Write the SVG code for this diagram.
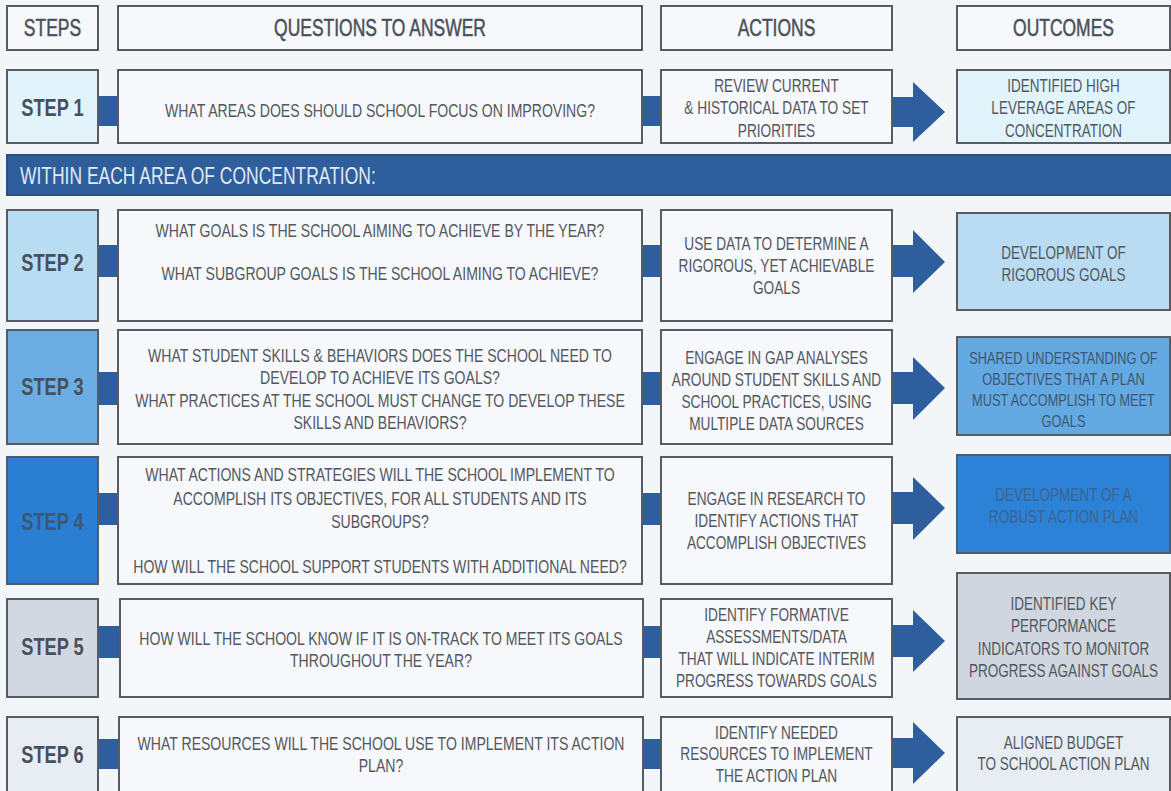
<svg xmlns="http://www.w3.org/2000/svg" width="1171" height="791" viewBox="0 0 1171 791">
<style>
.bg{fill:#f3f6f9}
.box{fill:#f6f8fb;stroke:#585c62;stroke-width:2}
.c{fill:#2e5e9e}
.t{font-family:'Liberation Sans',Arial,sans-serif;fill:#52575d;text-anchor:middle;dominant-baseline:central}
.h{font-size:23px;fill:#4a5058;stroke:#4a5058;stroke-width:0.5}
.s{font-size:24px;font-weight:bold;fill:#47505b}
.q{font-size:18.5px}
.a{font-size:18px}
.o{font-size:17.8px}
</style>
<rect class="bg" x="0" y="0" width="1171" height="791"/>

<g id="connectors">
  <rect class="c" x="97" y="96" width="23" height="30"/>
  <rect class="c" x="640" y="96" width="23" height="30"/>
  <polygon class="c" points="892,97 913,97 913,82 945,112 913,142 913,127 892,127"/>
  <rect class="c" x="97" y="245" width="23" height="32"/>
  <rect class="c" x="640" y="245" width="23" height="32"/>
  <polygon class="c" points="892,245 913,245 913,230 945,262 913,293 913,277 892,277"/>
  <rect class="c" x="97" y="372" width="23" height="33"/>
  <rect class="c" x="640" y="372" width="23" height="33"/>
  <polygon class="c" points="892,372 913,372 913,357 945,388 913,420 913,404 892,404"/>
  <rect class="c" x="97" y="493" width="23" height="32"/>
  <rect class="c" x="640" y="493" width="23" height="32"/>
  <polygon class="c" points="892,492 913,492 913,477 945,508 913,540 913,524 892,524"/>
  <rect class="c" x="97" y="626" width="25" height="32"/>
  <rect class="c" x="641" y="626" width="22" height="32"/>
  <polygon class="c" points="892,625 913,625 913,610 945,641 913,672 913,657 892,657"/>
  <rect class="c" x="97" y="739" width="24" height="30"/>
  <rect class="c" x="641" y="739" width="22" height="30"/>
  <polygon class="c" points="892,738 913,738 913,722 945,753 913,784 913,768 892,768"/>
</g>

<g id="hdr-steps"><rect class="box" x="7" y="6" width="91" height="44"/><text class="t h" transform="scale(0.76 1)" x="69.08" y="28">STEPS</text></g>
<g id="hdr-questions"><rect class="box" x="118" y="6" width="524" height="44"/><text class="t h" transform="scale(0.76 1)" x="500" y="28">QUESTIONS TO ANSWER</text></g>
<g id="hdr-actions"><rect class="box" x="661" y="6" width="231" height="44"/><text class="t h" transform="scale(0.76 1)" x="1021.71" y="28">ACTIONS</text></g>
<g id="hdr-outcomes"><rect class="box" x="957" y="6" width="213" height="44"/><text class="t h" transform="scale(0.76 1)" x="1399.34" y="28">OUTCOMES</text></g>

<g id="step1"><rect class="box" x="7" y="70" width="91" height="73" style="fill:#e2f3fb"/><text class="t s" transform="scale(0.76 1)" x="69.08" y="108">STEP 1</text></g>
<g id="q1"><rect class="box" x="118" y="70" width="524" height="73"/><text class="t q" transform="scale(0.76 1)" x="500" y="110">WHAT AREAS DOES SHOULD SCHOOL FOCUS ON IMPROVING?</text></g>
<g id="a1"><rect class="box" x="661" y="70" width="231" height="73"/><text class="t a" transform="scale(0.76 1)"><tspan x="1021.71" y="85">REVIEW CURRENT</tspan><tspan x="1021.71" y="107">&amp; HISTORICAL DATA TO SET</tspan><tspan x="1021.71" y="130">PRIORITIES</tspan></text></g>
<g id="o1"><rect class="box" x="957" y="70" width="213" height="73" style="fill:#e1f4fb"/><text class="t o" transform="scale(0.76 1)"><tspan x="1399.34" y="85">IDENTIFIED HIGH</tspan><tspan x="1399.34" y="107">LEVERAGE AREAS OF</tspan><tspan x="1399.34" y="130">CONCENTRATION</tspan></text></g>

<g id="band"><rect x="7" y="155" width="1170" height="40" style="fill:#2f5e9c;stroke:#29508a;stroke-width:2"/><text class="t" transform="scale(0.76 1)" x="26.32" y="176" style="font-size:23px;fill:#e2e9f2;text-anchor:start">WITHIN EACH AREA OF CONCENTRATION:</text></g>

<g id="step2"><rect class="box" x="7" y="210" width="91" height="111" style="fill:#b8dcf2"/><text class="t s" transform="scale(0.76 1)" x="69.08" y="263">STEP 2</text></g>
<g id="q2"><rect class="box" x="118" y="210" width="524" height="111"/><text class="t q" transform="scale(0.76 1)"><tspan x="500" y="230">WHAT GOALS IS THE SCHOOL AIMING TO ACHIEVE BY THE YEAR?</tspan><tspan x="500" y="273">WHAT SUBGROUP GOALS IS THE SCHOOL AIMING TO ACHIEVE?</tspan></text></g>
<g id="a2"><rect class="box" x="661" y="210" width="231" height="111"/><text class="t a" transform="scale(0.76 1)"><tspan x="1021.71" y="243">USE DATA TO DETERMINE A</tspan><tspan x="1021.71" y="265">RIGOROUS, YET ACHIEVABLE</tspan><tspan x="1021.71" y="287">GOALS</tspan></text></g>
<g id="o2"><rect class="box" x="957" y="213" width="213" height="97" style="fill:#b9dcf2"/><text class="t o" transform="scale(0.76 1)"><tspan x="1399.34" y="252">DEVELOPMENT OF</tspan><tspan x="1399.34" y="274">RIGOROUS GOALS</tspan></text></g>

<g id="step3"><rect class="box" x="7" y="330" width="91" height="114" style="fill:#6caee3"/><text class="t s" transform="scale(0.76 1)" x="69.08" y="387">STEP 3</text></g>
<g id="q3"><rect class="box" x="118" y="330" width="524" height="114"/><text class="t q" transform="scale(0.76 1)"><tspan x="500" y="355">WHAT STUDENT SKILLS &amp; BEHAVIORS DOES THE SCHOOL NEED TO</tspan><tspan x="500" y="377">DEVELOP TO ACHIEVE ITS GOALS?</tspan><tspan x="500" y="400">WHAT PRACTICES AT THE SCHOOL MUST CHANGE TO  DEVELOP THESE</tspan><tspan x="500" y="422">SKILLS AND BEHAVIORS?</tspan></text></g>
<g id="a3"><rect class="box" x="661" y="330" width="231" height="114"/><text class="t a" transform="scale(0.76 1)"><tspan x="1021.71" y="357">ENGAGE IN GAP ANALYSES</tspan><tspan x="1021.71" y="379">AROUND STUDENT SKILLS AND</tspan><tspan x="1021.71" y="401">SCHOOL PRACTICES, USING</tspan><tspan x="1021.71" y="423">MULTIPLE DATA SOURCES</tspan></text></g>
<g id="o3"><rect class="box" x="957" y="337" width="213" height="98" style="fill:#63a9e2"/><text class="t o" transform="scale(0.76 1)" style="fill:#3f5670;font-size:16.8px"><tspan x="1399.34" y="357">SHARED UNDERSTANDING OF</tspan><tspan x="1399.34" y="378">OBJECTIVES THAT A PLAN</tspan><tspan x="1399.34" y="399">MUST ACCOMPLISH TO MEET</tspan><tspan x="1399.34" y="420">GOALS</tspan></text></g>

<g id="step4"><rect class="box" x="7" y="457" width="91" height="127" style="fill:#2b7fd3"/><text class="t s" transform="scale(0.76 1)" x="69.08" y="522" style="fill:#3a5878">STEP 4</text></g>
<g id="q4"><rect class="box" x="118" y="457" width="524" height="127"/><text class="t q" transform="scale(0.76 1)"><tspan x="500" y="474">WHAT ACTIONS AND STRATEGIES WILL THE SCHOOL IMPLEMENT TO</tspan><tspan x="500" y="498">ACCOMPLISH ITS OBJECTIVES, FOR ALL STUDENTS AND  ITS</tspan><tspan x="500" y="521">SUBGROUPS?</tspan><tspan x="500" y="566">HOW WILL THE SCHOOL SUPPORT STUDENTS WITH ADDITIONAL NEED?</tspan></text></g>
<g id="a4"><rect class="box" x="661" y="457" width="231" height="127"/><text class="t a" transform="scale(0.76 1)"><tspan x="1021.71" y="498">ENGAGE IN RESEARCH TO</tspan><tspan x="1021.71" y="520">IDENTIFY ACTIONS THAT</tspan><tspan x="1021.71" y="542">ACCOMPLISH OBJECTIVES</tspan></text></g>
<g id="o4"><rect class="box" x="957" y="455" width="213" height="98" style="fill:#2b82d6"/><text class="t o" transform="scale(0.76 1)" style="fill:#3d6590"><tspan x="1399.34" y="494">DEVELOPMENT OF A</tspan><tspan x="1399.34" y="516">ROBUST ACTION PLAN</tspan></text></g>

<g id="step5"><rect class="box" x="7" y="599" width="91" height="98" style="fill:#d1d8e1"/><text class="t s" transform="scale(0.76 1)" x="69.08" y="647">STEP 5</text></g>
<g id="q5"><rect class="box" x="120" y="599" width="523" height="98"/><text class="t q" transform="scale(0.76 1)"><tspan x="501.32" y="638">HOW WILL THE SCHOOL KNOW IF IT IS ON-TRACK TO MEET ITS GOALS</tspan><tspan x="501.32" y="660">THROUGHOUT THE YEAR?</tspan></text></g>
<g id="a5"><rect class="box" x="661" y="599" width="231" height="98"/><text class="t a" transform="scale(0.76 1)"><tspan x="1021.71" y="614">IDENTIFY FORMATIVE</tspan><tspan x="1021.71" y="636">ASSESSMENTS/DATA</tspan><tspan x="1021.71" y="658">THAT WILL INDICATE INTERIM</tspan><tspan x="1021.71" y="680">PROGRESS TOWARDS GOALS</tspan></text></g>
<g id="o5"><rect class="box" x="957" y="573" width="213" height="126" style="fill:#d0d6df"/><text class="t o" transform="scale(0.76 1)"><tspan x="1399.34" y="603">IDENTIFIED KEY</tspan><tspan x="1399.34" y="625">PERFORMANCE</tspan><tspan x="1399.34" y="648">INDICATORS TO MONITOR</tspan><tspan x="1399.34" y="670">PROGRESS AGAINST GOALS</tspan></text></g>

<g id="step6"><rect class="box" x="7" y="717" width="91" height="80" style="fill:#e8edf3"/><text class="t s" transform="scale(0.76 1)" x="69.08" y="755">STEP 6</text></g>
<g id="q6"><rect class="box" x="119" y="717" width="524" height="80"/><text class="t q" transform="scale(0.76 1)"><tspan x="501.32" y="743">WHAT RESOURCES WILL THE SCHOOL USE TO IMPLEMENT ITS ACTION</tspan><tspan x="501.32" y="765">PLAN?</tspan></text></g>
<g id="a6"><rect class="box" x="661" y="717" width="231" height="80"/><text class="t a" transform="scale(0.76 1)"><tspan x="1021.71" y="732">IDENTIFY NEEDED</tspan><tspan x="1021.71" y="753">RESOURCES TO IMPLEMENT</tspan><tspan x="1021.71" y="775">THE ACTION PLAN</tspan></text></g>
<g id="o6"><rect class="box" x="957" y="717" width="213" height="80" style="fill:#e8edf3"/><text class="t o" transform="scale(0.76 1)"><tspan x="1399.34" y="742">ALIGNED BUDGET</tspan><tspan x="1399.34" y="763">TO SCHOOL ACTION PLAN</tspan></text></g>
</svg>
